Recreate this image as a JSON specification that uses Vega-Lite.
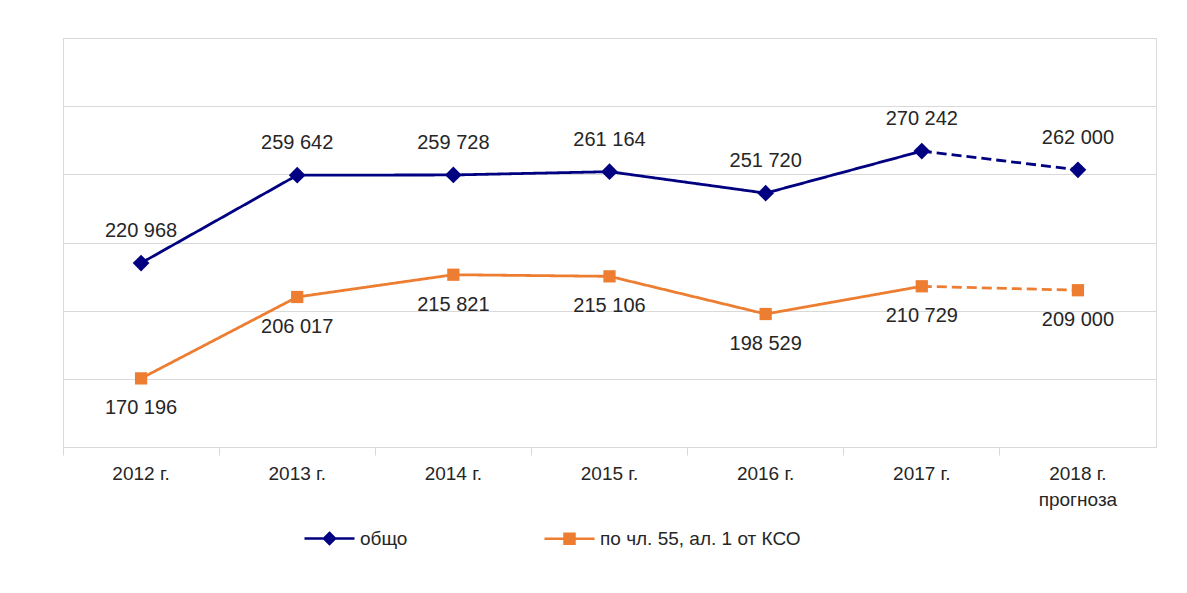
{
  "$schema": "https://vega.github.io/schema/vega-lite/v6.json",
  "width": 1093,
  "height": 409,
  "padding": {"left": 62, "top": 38, "right": 32, "bottom": 10},
  "background": "white",
  "config": {
    "locale": {"number": {"decimal": ",", "thousands": " ", "grouping": [3], "currency": ["", ""]}},
    "view": {"stroke": "#d9d9d9", "strokeWidth": 1},
    "font": "Liberation Sans"
  },
  "data": {
    "values": [
      {"year": "2012 г.", "series": "общо", "value": 220968, "segment": "actual"},
      {"year": "2013 г.", "series": "общо", "value": 259642, "segment": "actual"},
      {"year": "2014 г.", "series": "общо", "value": 259728, "segment": "actual"},
      {"year": "2015 г.", "series": "общо", "value": 261164, "segment": "actual"},
      {"year": "2016 г.", "series": "общо", "value": 251720, "segment": "actual"},
      {"year": "2017 г.", "series": "общо", "value": 270242, "segment": "actual"},
      {"year": "2017 г.", "series": "общо", "value": 270242, "segment": "forecast"},
      {"year": "2018 г.|прогноза", "series": "общо", "value": 262000, "segment": "forecast"},
      {"year": "2012 г.", "series": "по чл. 55, ал. 1 от КСО", "value": 170196, "segment": "actual"},
      {"year": "2013 г.", "series": "по чл. 55, ал. 1 от КСО", "value": 206017, "segment": "actual"},
      {"year": "2014 г.", "series": "по чл. 55, ал. 1 от КСО", "value": 215821, "segment": "actual"},
      {"year": "2015 г.", "series": "по чл. 55, ал. 1 от КСО", "value": 215106, "segment": "actual"},
      {"year": "2016 г.", "series": "по чл. 55, ал. 1 от КСО", "value": 198529, "segment": "actual"},
      {"year": "2017 г.", "series": "по чл. 55, ал. 1 от КСО", "value": 210729, "segment": "actual"},
      {"year": "2017 г.", "series": "по чл. 55, ал. 1 от КСО", "value": 210729, "segment": "forecast"},
      {"year": "2018 г.|прогноза", "series": "по чл. 55, ал. 1 от КСО", "value": 209000, "segment": "forecast"}
    ]
  },
  "encoding": {
    "x": {
      "field": "year",
      "type": "nominal",
      "sort": null,
      "scale": {"type": "band", "paddingInner": 0, "paddingOuter": 0},
      "axis": {
        "title": null,
        "labelAngle": 0,
        "labelExpr": "split(datum.value, '|')",
        "labelFont": "Liberation Sans",
        "labelFontSize": 19,
        "labelColor": "#262626",
        "labelLineHeight": 26,
        "labelPadding": 9,
        "bandPosition": 0,
        "ticks": true,
        "tickSize": 8,
        "tickColor": "#d9d9d9",
        "domainColor": "#d9d9d9",
        "grid": false
      }
    },
    "y": {
      "field": "value",
      "type": "quantitative",
      "scale": {"domain": [140000, 320000], "nice": false, "zero": false},
      "axis": {
        "title": null,
        "labels": false,
        "ticks": false,
        "domain": false,
        "grid": true,
        "gridColor": "#d9d9d9",
        "values": [140000, 170000, 200000, 230000, 260000, 290000, 320000]
      }
    }
  },
  "layer": [
    {
      "mark": {"type": "line", "strokeWidth": 2.8},
      "encoding": {
        "color": {
          "field": "series",
          "type": "nominal",
          "scale": {"domain": ["общо", "по чл. 55, ал. 1 от КСО"], "range": ["#000080", "#ED7D31"]},
          "legend": {
            "orient": "none",
            "legendX": 240,
            "legendY": 474,
            "direction": "horizontal",
            "title": null,
            "padding": 0,
            "symbolSize": 2500,
            "symbolStrokeWidth": 2.5,
            "labelFont": "Liberation Sans",
            "labelFontSize": 19,
            "labelColor": "#262626",
            "labelOffset": 4,
            "columnPadding": 131,
            "labelLimit": 400,
            "encode": {
              "symbols": {
                "update": {
                  "shape": {"signal": "datum.value == 'общо' ? 'M-1,0H1M0,-0.22L0.22,0L0,0.22L-0.22,0Z' : 'M-1,0H1M-0.2,-0.2H0.2V0.2H-0.2Z'"},
                  "fill": {"scale": "color", "field": "value"},
                  "stroke": {"scale": "color", "field": "value"},
                  "strokeWidth": {"value": 2.5},
                  "size": {"value": 2500},
                  "opacity": {"value": 1}
                }
              }
            }
          }
        },
        "detail": {"field": "segment"},
        "strokeDash": {
          "field": "segment",
          "type": "nominal",
          "scale": {"domain": ["actual", "forecast"], "range": [[1, 0], [10, 5]]},
          "legend": null
        }
      }
    },
    {
      "transform": [
        {"filter": "datum.segment == 'actual' || datum.year == '2018 г.|прогноза'"},
        {"filter": "datum.series == 'общо'"}
      ],
      "mark": {"type": "point", "shape": "diamond", "size": 280, "filled": true, "opacity": 1, "color": "#000080"}
    },
    {
      "transform": [
        {"filter": "datum.segment == 'actual' || datum.year == '2018 г.|прогноза'"},
        {"filter": "datum.series != 'общо'"}
      ],
      "mark": {"type": "point", "shape": "square", "size": 150, "filled": true, "opacity": 1, "color": "#ED7D31"}
    },
    {
      "transform": [
        {"filter": "datum.segment == 'actual' || datum.year == '2018 г.|прогноза'"},
        {"filter": "datum.series == 'общо'"}
      ],
      "mark": {"type": "text", "dy": -32, "fontSize": 20, "font": "Liberation Sans", "color": "#262626"},
      "encoding": {
        "text": {"field": "value", "type": "quantitative", "format": ",d"}
      }
    },
    {
      "transform": [
        {"filter": "datum.segment == 'actual' || datum.year == '2018 г.|прогноза'"},
        {"filter": "datum.series != 'общо'"}
      ],
      "mark": {"type": "text", "dy": 30, "fontSize": 20, "font": "Liberation Sans", "color": "#262626"},
      "encoding": {
        "text": {"field": "value", "type": "quantitative", "format": ",d"}
      }
    }
  ]
}
